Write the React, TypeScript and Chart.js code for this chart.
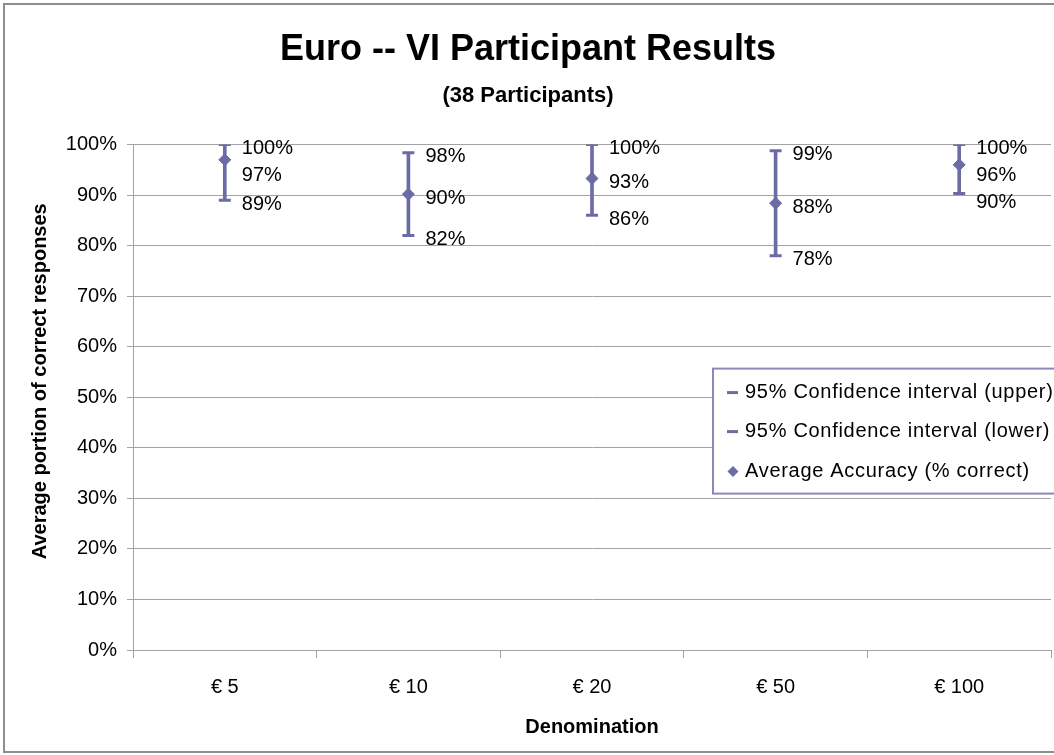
import React, { useEffect, useRef } from 'react';
import { Chart, registerables } from 'chart.js';

Chart.register(...registerables);

// ---- data ----
const categories = ['€ 5', '€ 10', '€ 20', '€ 50', '€ 100'];
const upperCI = [100, 98.4, 100, 98.8, 100];
const lowerCI = [89, 82, 86, 78, 90.3];
const averageAccuracy = [97, 90.2, 93.3, 88.4, 96];
const seriesLabels = [
  '95% Confidence interval (upper)',
  '95% Confidence interval (lower)',
  'Average Accuracy (% correct)',
];
const chartTitle = 'Euro -- VI Participant Results';
const chartSubtitle = '(38 Participants)';
const xTitle = 'Denomination';
const yTitle = 'Average portion of correct responses';

// ---- style ----
const COLOR = '#6b6ba6';
const GRID = '#a3a3a3';
const FONT = "'Liberation Sans', Arial, sans-serif";

const pct = (v: number) => `${Math.round(v)}%`;

const labelPlugin = {
  id: 'hiloLabels',
  afterDatasetsDraw(chart: any) {
    const ctx = chart.ctx;
    const up = chart.getDatasetMeta(1).data;
    const lo = chart.getDatasetMeta(2).data;
    const av = chart.getDatasetMeta(3).data;
    ctx.save();
    ctx.font = `20px ${FONT}`;
    ctx.fillStyle = '#000';
    ctx.textAlign = 'left';
    ctx.textBaseline = 'middle';
    const gap = 27;
    for (let i = 0; i < categories.length; i++) {
      const x = up[i].x + 17;
      const yU = up[i].y + 4;
      const yA = Math.max(av[i].y + 4, yU + gap);
      const yL = Math.max(lo[i].y + 4, yA + gap);
      ctx.fillText(pct(upperCI[i]), x, yU);
      ctx.fillText(pct(averageAccuracy[i]), x, yA);
      ctx.fillText(pct(lowerCI[i]), x, yL);
    }
    ctx.restore();
  },
};

const yTitlePlugin = {
  id: 'yTitle',
  afterDraw(chart: any) {
    const ctx = chart.ctx;
    const ca = chart.chartArea;
    ctx.save();
    ctx.translate(35, (ca.top + ca.bottom) / 2 - 16);
    ctx.rotate(-Math.PI / 2);
    ctx.font = `bold 20px ${FONT}`;
    ctx.fillStyle = '#000';
    ctx.textAlign = 'center';
    ctx.textBaseline = 'middle';
    ctx.fillText(yTitle, 0, 0);
    ctx.restore();
  },
};

const legendPlugin = {
  id: 'boxLegend',
  afterDraw(chart: any) {
    const ctx = chart.ctx;
    const ca = chart.chartArea;
    const left = ca.left + 580;
    const top = ca.top + 224;
    const w = 380;
    const h = 125;
    ctx.save();
    ctx.fillStyle = '#ffffff';
    ctx.fillRect(left, top, w, h);
    ctx.strokeStyle = '#8a8ab8';
    ctx.lineWidth = 2;
    ctx.strokeRect(left, top, w, h);
    ctx.font = `20px ${FONT}`;
    try { (ctx as any).letterSpacing = '0.7px'; } catch (e) {}
    ctx.textAlign = 'left';
    ctx.textBaseline = 'middle';
    const rows = [24, 63, 103];
    seriesLabels.forEach((lab, i) => {
      const y = top + rows[i];
      ctx.strokeStyle = COLOR;
      ctx.fillStyle = COLOR;
      if (i < 2) {
        ctx.lineWidth = 3;
        ctx.beginPath();
        ctx.moveTo(left + 14, y);
        ctx.lineTo(left + 25, y);
        ctx.stroke();
      } else {
        ctx.beginPath();
        ctx.moveTo(left + 20, y - 5.5);
        ctx.lineTo(left + 25.5, y);
        ctx.lineTo(left + 20, y + 5.5);
        ctx.lineTo(left + 14.5, y);
        ctx.closePath();
        ctx.fill();
      }
      ctx.fillStyle = '#000';
      ctx.fillText(lab, left + 32, y);
    });
    ctx.restore();
  },
};

export default function App() {
  const ref = useRef<HTMLCanvasElement | null>(null);

  useEffect(() => {
    if (!ref.current) return;
    Chart.defaults.font.family = FONT;
    const chart = new Chart(ref.current, {
      type: 'bar',
      data: {
        labels: categories,
        datasets: [
          {
            type: 'bar',
            label: 'range',
            data: categories.map((_, i) => [lowerCI[i], upperCI[i]]) as any,
            backgroundColor: COLOR,
            borderWidth: 0,
            barThickness: 3,
          },
          {
            type: 'line',
            label: seriesLabels[0],
            data: upperCI,
            showLine: false,
            pointStyle: 'line',
            pointRadius: 6,
            pointBorderWidth: 3,
            pointBorderColor: COLOR,
            pointBackgroundColor: COLOR,
          },
          {
            type: 'line',
            label: seriesLabels[1],
            data: lowerCI,
            showLine: false,
            pointStyle: 'line',
            pointRadius: 6,
            pointBorderWidth: 3,
            pointBorderColor: COLOR,
            pointBackgroundColor: COLOR,
          },
          {
            type: 'line',
            label: seriesLabels[2],
            data: averageAccuracy,
            showLine: false,
            pointStyle: 'rectRot',
            pointRadius: 6,
            pointBorderWidth: 1,
            pointBorderColor: COLOR,
            pointBackgroundColor: COLOR,
          },
        ] as any,
      },
      options: {
        responsive: false,
        animation: false,
        devicePixelRatio: 1,
        layout: { padding: { top: 0, left: 0, right: 14, bottom: 0 } },
        plugins: {
          legend: { display: false },
          tooltip: { enabled: false },
          title: {
            display: true,
            text: chartTitle,
            color: '#000',
            font: { size: 36, weight: 'bold', family: FONT },
            padding: { top: 23, bottom: 4 },
          },
          subtitle: {
            display: true,
            text: chartSubtitle,
            color: '#000',
            font: { size: 22, weight: 'bold', family: FONT },
            padding: { top: 8, bottom: 35 },
          },
        },
        scales: {
          x: {
            type: 'category',
            offset: true,
            grid: {
              display: true,
              offset: true,
              drawOnChartArea: false,
              drawTicks: true,
              tickLength: 8,
              color: GRID,
            },
            border: { display: true, color: GRID, width: 1 },
            ticks: { color: '#000', font: { size: 20 }, padding: 17 },
            title: {
              display: true,
              text: xTitle,
              color: '#000',
              font: { size: 20, weight: 'bold' },
              padding: { top: 0, bottom: 12 },
            },
            afterFit: (s: any) => { s.height = 101; },
          },
          y: {
            min: 0,
            max: 100,
            ticks: {
              stepSize: 10,
              color: '#000',
              font: { size: 20 },
              padding: 10,
              callback: (v: any) => `${v}%`,
            },
            grid: { color: GRID, tickLength: 6, drawTicks: true },
            border: { display: true, color: GRID, width: 1 },
            title: { display: false, text: yTitle },
            afterFit: (s: any) => { s.width = 128; },
          },
        },
      } as any,
      plugins: [labelPlugin, yTitlePlugin, legendPlugin],
    });
    return () => chart.destroy();
  }, []);

  return (
    <div style={{ position: 'fixed', left: 0, top: 0, width: 1054, height: 755, overflow: 'hidden', background: '#fff' }}>
      <div
        style={{
          position: 'absolute',
          left: 3,
          top: 3,
          width: 1060,
          height: 746,
          border: '2px solid #8e8e8e',
        }}
      >
        <canvas ref={ref} width={1060} height={746} style={{ display: 'block', width: 1060, height: 746 }} />
      </div>
    </div>
  );
}
